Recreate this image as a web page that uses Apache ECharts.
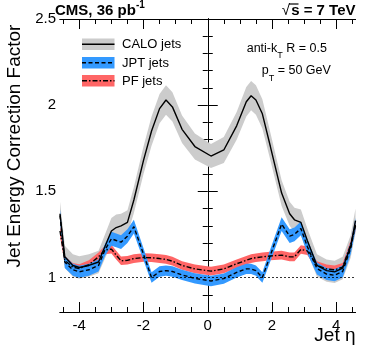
<!DOCTYPE html>
<html>
<head>
<meta charset="utf-8">
<script src="https://cdn.jsdelivr.net/npm/echarts@6.0.0/dist/echarts.min.js"></script>
<style>
  html, body { margin: 0; padding: 0; background: #fff; }
  #chart { width: 374px; height: 359px; }
</style>
</head>
<body>
<div id="chart"></div>
<script>
// jet eta grid shared by the three curves
var eta = [-4.6, -4.45, -4.2, -4.0, -3.7, -3.4, -3.2, -3.0, -2.85, -2.7, -2.5, -2.3, -2.0, -1.75, -1.5, -1.3, -1.1, -0.8, -0.4, 0.1,
  0.5, 0.9, 1.2, 1.35, 1.5, 1.7, 1.95, 2.3, 2.55, 2.7, 2.9, 3.1, 3.4, 3.7, 3.95, 4.2, 4.45, 4.6];

var calo = [1.37, 1.12, 1.07, 1.058, 1.07, 1.09, 1.18, 1.27, 1.29, 1.30, 1.32, 1.45, 1.68, 1.85, 1.98, 2.03, 1.99, 1.86, 1.76, 1.705,
  1.74, 1.88, 2.02, 2.055, 2.03, 1.95, 1.76, 1.49, 1.37, 1.335, 1.32, 1.215, 1.07, 1.04, 1.033, 1.055, 1.18, 1.33];
var caloErr = [0.07, 0.065, 0.065, 0.065, 0.065, 0.065, 0.07, 0.075, 0.075, 0.07, 0.07, 0.075, 0.08, 0.085, 0.085, 0.085, 0.085, 0.08, 0.075, 0.07,
  0.075, 0.08, 0.085, 0.085, 0.085, 0.085, 0.08, 0.075, 0.07, 0.07, 0.075, 0.07, 0.065, 0.065, 0.065, 0.065, 0.065, 0.07];

var jpt = [1.36, 1.09, 1.045, 1.033, 1.045, 1.07, 1.16, 1.225, 1.215, 1.205, 1.24, 1.295, 1.135, 1.0, 1.035, 1.04, 1.035, 1.015, 0.995, 0.98,
  0.994, 1.03, 1.05, 1.05, 1.04, 1.0, 1.13, 1.31, 1.24, 1.25, 1.285, 1.18, 1.052, 1.02, 1.013, 1.035, 1.17, 1.31];
var jptErr = [0.035, 0.035, 0.035, 0.035, 0.035, 0.035, 0.035, 0.04, 0.04, 0.04, 0.04, 0.04, 0.035, 0.03, 0.03, 0.03, 0.03, 0.03, 0.03, 0.03,
  0.03, 0.03, 0.03, 0.03, 0.03, 0.03, 0.035, 0.04, 0.04, 0.04, 0.04, 0.04, 0.035, 0.035, 0.035, 0.035, 0.035, 0.035];

var pf = [1.27, 1.10, 1.06, 1.052, 1.075, 1.12, 1.16, 1.165, 1.13, 1.097, 1.10, 1.11, 1.116, 1.115, 1.11, 1.105, 1.095, 1.07, 1.05, 1.037,
  1.05, 1.08, 1.10, 1.11, 1.115, 1.12, 1.125, 1.13, 1.12, 1.12, 1.163, 1.155, 1.07, 1.05, 1.045, 1.06, 1.19, 1.30];
var pfErr = [0.03, 0.025, 0.025, 0.025, 0.025, 0.025, 0.025, 0.025, 0.025, 0.025, 0.025, 0.025, 0.025, 0.025, 0.025, 0.025, 0.025, 0.025, 0.025, 0.025,
  0.025, 0.025, 0.025, 0.025, 0.025, 0.025, 0.025, 0.025, 0.025, 0.025, 0.025, 0.025, 0.025, 0.025, 0.025, 0.025, 0.025, 0.03];

var xMajor = [-4, -2, 0, 2, 4];
var xMinor = [-4.5, -3.5, -3, -2.5, -1.5, -1, -0.5, 0.5, 1, 1.5, 2.5, 3, 3.5, 4.5];
var yMajor = [1, 1.5, 2, 2.5];
var yMinor = [0.8, 0.9, 1.1, 1.2, 1.3, 1.4, 1.6, 1.7, 1.8, 1.9, 2.1, 2.2, 2.3, 2.4];

var FONT = 'Liberation Sans, Arial, Helvetica, sans-serif';

var chart = echarts.init(document.getElementById('chart'));

function xAxisDef(pos, ticks, len, labels) {
  return {
    type: 'value', position: pos, min: -4.6, max: 4.6, offset: 0,
    axisLine: { show: true, lineStyle: { color: '#000', width: 1 } },
    axisTick: { show: true, inside: true, length: len, customValues: ticks, lineStyle: { color: '#000', width: 1 } },
    axisLabel: labels ? { show: true, customValues: ticks, color: '#000', fontSize: 15, fontFamily: FONT, margin: 6 } : { show: false },
    splitLine: { show: false }
  };
}
function yAxisDef(pos, ticks, len, labels) {
  return {
    type: 'value', position: pos, min: 0.8, max: 2.5, offset: 0,
    axisLine: { show: true, lineStyle: { color: '#000', width: 1 } },
    axisTick: { show: true, inside: true, length: len, customValues: ticks, lineStyle: { color: '#000', width: 1 } },
    axisLabel: labels ? { show: true, customValues: ticks, color: '#000', fontSize: 15, fontFamily: FONT, margin: 4 } : { show: false },
    splitLine: { show: false }
  };
}

function band(lo, hi, color, extra) {
  var s = {
    type: 'custom',
    silent: true,
    clip: true,
    data: eta.map(function (x, i) { return [x, lo[i], hi[i]]; }),
    encode: { x: 0, y: [1, 2] },
    renderItem: function (params, api) {
      if (params.dataIndex !== 0) return null;
      var pts = [];
      for (var i = 0; i < eta.length; i++) pts.push(api.coord([eta[i], hi[i]]));
      for (var j = eta.length - 1; j >= 0; j--) pts.push(api.coord([eta[j], lo[j]]));
      return { type: 'polygon', shape: { points: pts }, style: { fill: color } };
    }
  };
  return Object.assign(s, extra || {});
}

function curve(vals, dash) {
  return {
    type: 'line',
    silent: true,
    showSymbol: false,
    symbol: 'none',
    data: eta.map(function (x, i) { return [x, vals[i]]; }),
    lineStyle: { color: '#000', width: 1.4, type: dash },
    z: 5
  };
}

var lower = function (v, e) { return v.map(function (y, i) { return y - e[i]; }); };
var upper = function (v, e) { return v.map(function (y, i) { return y + e[i]; }); };

var refLine = {
  silent: true,
  symbol: ['none', 'none'],
  label: { show: false },
  lineStyle: { color: '#000', width: 0.8, type: [2, 2] },
  data: [{ yAxis: 1 }]
};

function txt(x, y, text, size, opts) {
  opts = opts || {};
  return {
    type: 'text', x: x, y: y, rotation: opts.rotation || 0, silent: true,
    style: {
      text: text, fill: '#000',
      font: (opts.bold ? 'bold ' : '') + size + 'px ' + FONT,
      textAlign: opts.align || 'left', align: opts.align || 'left',
      textVerticalAlign: 'middle', verticalAlign: 'middle'
    }
  };
}
function legendItem(y, color, dash, label) {
  return [
    { type: 'rect', shape: { x: 82, y: y, width: 32.5, height: 11.5 }, style: { fill: color }, silent: true },
    { type: 'line', shape: { x1: 82, y1: y + 5.75, x2: 114.5, y2: y + 5.75 }, style: { stroke: '#000', lineWidth: 1.4, lineDash: dash }, silent: true },
    txt(122, y + 6, label, 13)
  ];
}

chart.setOption({
  animation: false,
  backgroundColor: '#fff',
  grid: { left: 60, right: 18.5, top: 19, bottom: 47, containLabel: false },
  xAxis: [
    xAxisDef('bottom', xMinor, 5, false),
    xAxisDef('bottom', xMajor, 10, true),
    xAxisDef('top', xMinor, 5, false),
    xAxisDef('top', xMajor, 10, false)
  ],
  yAxis: [
    yAxisDef('left', yMinor, 5, false),
    yAxisDef('left', yMajor, 10, true),
    yAxisDef('right', yMinor, 5, false),
    yAxisDef('right', yMajor, 10, false)
  ],
  series: [
    band(lower(calo, caloErr), upper(calo, caloErr), '#cccccc', { markLine: refLine }),
    band(lower(pf, pfErr), upper(pf, pfErr), '#ff6666'),
    band(lower(jpt, jptErr), upper(jpt, jptErr), '#3399ff'),
    curve(calo, 'solid'),
    curve(jpt, [4, 2.5]),
    curve(pf, [5, 2, 1.5, 2])
  ],
  graphic: [].concat(
    legendItem(38.5, '#cccccc', null, 'CALO jets'),
    legendItem(57, '#3399ff', [4, 2.5], 'JPT jets'),
    legendItem(75, '#ff6666', [5, 2, 1.5, 2], 'PF jets'),
    [
      txt(55, 10.7, 'CMS, 36 pb', 15, { bold: true }),
      txt(136, 5.5, '-1', 10, { bold: true }),
      txt(355.5, 10.7, 's = 7 TeV', 15, { bold: true, align: 'right' }),
      txt(290, 10.7, '\u221A', 15, { bold: false, align: 'right' }),
      { type: 'line', shape: { x1: 289, y1: 4, x2: 298.5, y2: 4 }, style: { stroke: '#000', lineWidth: 1.2 }, silent: true },
      txt(246.7, 49, 'anti-k', 12.5),
      txt(277.3, 56, 'T', 9),
      txt(282.8, 49, ' R = 0.5', 12.5),
      txt(261.7, 70.7, 'p', 12.5),
      txt(268.7, 78.5, 'T', 9),
      txt(274.2, 70.7, ' = 50 GeV', 12.5),
      txt(14.5, 146, 'Jet Energy Correction Factor', 19, { rotation: Math.PI / 2, align: 'center' }),
      txt(355.5, 336, 'Jet \u03B7', 19, { align: 'right' })
    ]
  )
});
</script>
</body>
</html>
